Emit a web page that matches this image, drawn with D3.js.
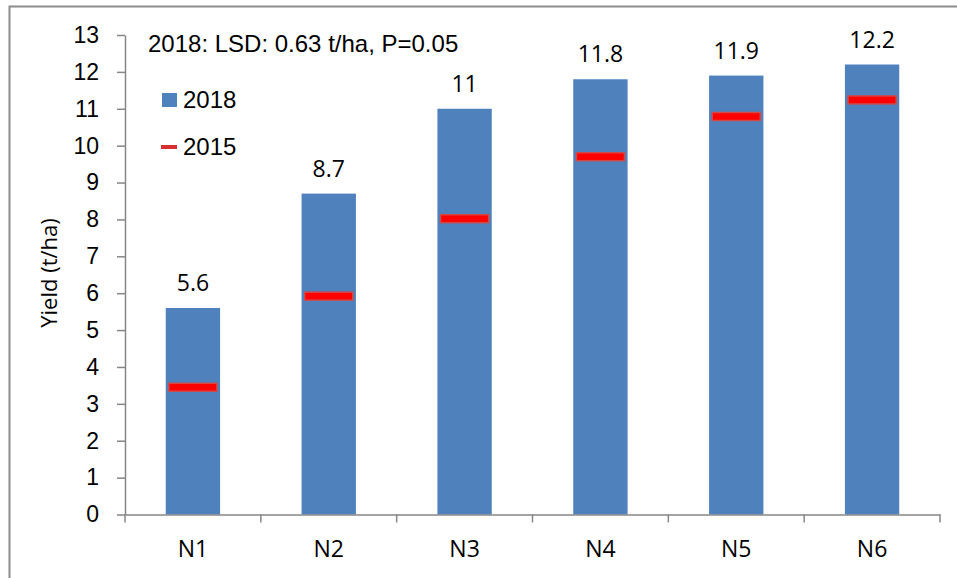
<!DOCTYPE html>
<html>
<head>
<meta charset="utf-8">
<script src="https://cdn.jsdelivr.net/npm/d3@7/dist/d3.min.js"></script>
<style>
  html, body { margin: 0; padding: 0; background: #fff; }
  svg { display: block; }
</style>
</head>
<body>
<script>
// Nitrogen treatments and yields (t/ha)
const categories = ["N1", "N2", "N3", "N4", "N5", "N6"];
const yield2018 = [5.6, 8.7, 11, 11.8, 11.9, 12.2];
const yield2015 = [3.45, 5.92, 8.02, 9.70, 10.79, 11.24];
const yTicks = [0, 1, 2, 3, 4, 5, 6, 7, 8, 9, 10, 11, 12, 13];
const legendLabels = ["2018", "2015"];
const noteText = "2018: LSD: 0.63 t/ha, P=0.05";
const yTitle = "Yield (t/ha)";

const W = 957, H = 578;
const plotL = 125, plotR = 940, plotT = 35, plotB = 514.5;
const axisColor = "#868686";
const barColor = "#4f81bd";
const sansA = "'Liberation Sans', Arial, sans-serif";
const sansB = "'Open Sans', Lato, sans-serif";

const svg = d3.select("body").append("svg")
  .attr("width", W).attr("height", H);

svg.append("rect").attr("width", W).attr("height", H).attr("fill", "#fff");

// outer chart frame
svg.append("rect")
  .attr("x", 9.5).attr("y", 6.5)
  .attr("width", W + 20).attr("height", H + 20)
  .attr("fill", "none").attr("stroke", "#8c8c8c").attr("stroke-width", 2);

const x = d3.scaleBand().domain(categories)
  .range([plotL, plotR]).paddingInner(0.6).paddingOuter(0.3);
const y = d3.scaleLinear().domain([0, 13]).range([plotB, plotT]);

// bars (2018)
svg.append("g").selectAll("rect").data(categories).join("rect")
  .attr("x", d => x(d))
  .attr("y", (d, i) => y(yield2018[i]))
  .attr("width", x.bandwidth())
  .attr("height", (d, i) => y(0) - y(yield2018[i]))
  .attr("fill", barColor);

// value labels above bars
svg.append("g").selectAll("text").data(categories).join("text")
  .attr("x", d => x(d) + x.bandwidth() / 2)
  .attr("y", (d, i) => y(yield2018[i]) - 17)
  .attr("text-anchor", "middle")
  .attr("font-family", sansB).attr("font-size", 23).attr("fill", "#000")
  .text((d, i) => yield2018[i]);

// 2015 markers
const mW = 48, mH = 8;
svg.append("g").selectAll("rect").data(categories).join("rect")
  .attr("x", d => x(d) + x.bandwidth() / 2 - mW / 2)
  .attr("y", (d, i) => y(yield2015[i]) - mH / 2)
  .attr("width", mW).attr("height", mH)
  .attr("fill", "#ff0000")
  .attr("stroke", "#d04848").attr("stroke-width", 1.5);

// y axis
const yAxis = svg.append("g")
  .attr("transform", `translate(${plotL},0)`)
  .call(d3.axisLeft(y).tickValues(yTicks).tickSize(8).tickSizeOuter(0).tickPadding(18));
yAxis.select(".domain").attr("stroke", axisColor).attr("stroke-width", 1.5);
yAxis.selectAll(".tick line").attr("stroke", axisColor).attr("stroke-width", 1.5);
yAxis.selectAll(".tick text")
  .attr("font-family", sansA).attr("font-size", 23).attr("fill", "#000");

// x axis: line, category boundary ticks, labels
const xAxis = svg.append("g")
  .attr("transform", `translate(0,${plotB})`)
  .call(d3.axisBottom(x).tickSize(0).tickSizeOuter(0).tickPadding(26));
xAxis.select(".domain").attr("stroke", axisColor).attr("stroke-width", 1.5);
xAxis.selectAll(".tick text")
  .attr("font-family", sansB).attr("font-size", 23).attr("fill", "#000");
const step = x.step();
const bounds = [x(categories[0]) + x.bandwidth() / 2 - step / 2]
  .concat(categories.map(c => x(c) + x.bandwidth() / 2 + step / 2));
xAxis.selectAll(".bound").data(bounds).join("line")
  .attr("class", "bound")
  .attr("x1", d => d).attr("x2", d => d)
  .attr("y1", 0).attr("y2", 8)
  .attr("stroke", axisColor).attr("stroke-width", 1.5);

// y axis title
svg.append("text")
  .attr("transform", `translate(48,273) rotate(-90)`)
  .attr("text-anchor", "middle").attr("dominant-baseline", "central")
  .attr("font-family", sansB).attr("font-size", 22).attr("fill", "#000")
  .text(yTitle);

// LSD note
svg.append("text")
  .attr("x", 148).attr("y", 52)
  .attr("font-family", sansA).attr("font-size", 24).attr("fill", "#000")
  .text(noteText);

// legend
const lg = svg.append("g");
lg.append("rect").attr("x", 162).attr("y", 93).attr("width", 15).attr("height", 14)
  .attr("fill", barColor);
lg.append("line").attr("x1", 161).attr("x2", 177).attr("y1", 147).attr("y2", 147)
  .attr("stroke", "#d83030").attr("stroke-width", 4);
lg.selectAll("text").data(legendLabels).join("text")
  .attr("x", 183).attr("y", (d, i) => 108 + i * 47)
  .attr("font-family", sansA).attr("font-size", 24).attr("fill", "#000")
  .text(d => d);
</script>
</body>
</html>
